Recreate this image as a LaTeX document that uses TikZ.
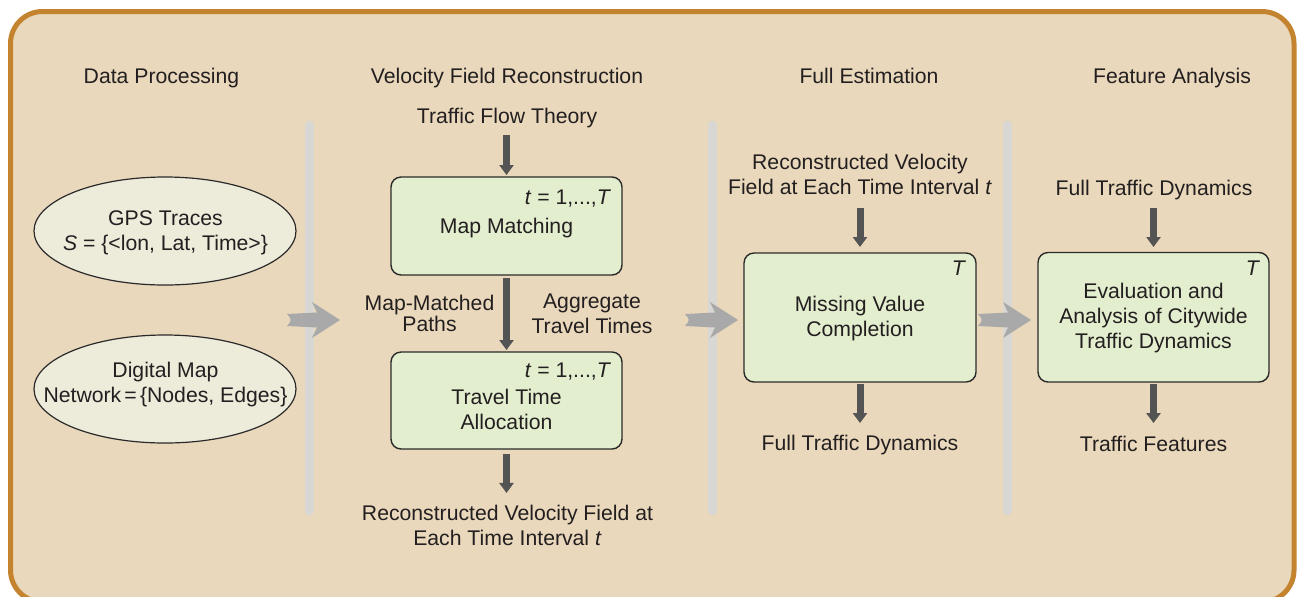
\documentclass[tikz,border=0pt]{standalone}
\usepackage{fontspec}
\setmainfont{Liberation Sans}
\usetikzlibrary{arrows.meta,shapes.geometric}
\definecolor{framec}{HTML}{C4832F}
\definecolor{bgc}{HTML}{E9D8BB}
\definecolor{barc}{HTML}{D8D7D4}
\definecolor{bigarrc}{HTML}{A9A9A9}
\definecolor{darrc}{HTML}{545454}
\definecolor{boxc}{HTML}{E3EECE}
\definecolor{ellc}{HTML}{EDEBDA}
\definecolor{txtc}{HTML}{231F20}
\definecolor{boxline}{HTML}{2A2A2A}
\newcommand{\twol}[1]{\begin{tabular}[t]{@{}c@{}}#1\end{tabular}}
\begin{document}
\begin{tikzpicture}[x=0.5pt,y=-0.5pt,
  every node/.style={text=txtc, font=\fontsize{10.6pt}{12.6pt}\selectfont, inner sep=0pt, outer sep=0pt},
  lbl/.style={anchor=base},
  corner/.style={anchor=base east},
  box/.style={draw=boxline, line width=0.7pt, fill=boxc, rounded corners=5pt, minimum width=115.5pt},
  ell/.style={ellipse, draw=boxline, line width=0.6pt, fill=ellc, minimum width=131pt, minimum height=54pt},
  darr/.style={draw=darrc, line width=3.5pt, -{Triangle[width=7pt,length=5pt]}},
  bar/.style={draw=barc, line width=4.5pt, line cap=round},
  bigarr/.style={fill=bigarrc},
  tight/.style={font=\fontsize{10.6pt}{9.8pt}\selectfont}]
\useasboundingbox (0,0) rectangle (1299,596);
\begin{scope}
  \clip (0,0) rectangle (1299,596);
  \draw[draw=framec, line width=2.5pt, fill=bgc, rounded corners=16pt] (10.5,11.5) rectangle (1294,602);
\end{scope}

% stage separators
\draw[bar] (309,125) -- (309,511);
\draw[bar] (712,125) -- (712,511);
\draw[bar] (1007,125) -- (1007,511);

% big stage arrows
\coordinate (ga1) at (287,320);
\coordinate (ga2) at (685,320);
\coordinate (ga3) at (978,320);
\foreach \c in {ga1,ga2,ga3}
  \fill[bigarr, shift={(\c)}] (0,-6) -- (30,-7.5) -- (25,-18) -- (53,0) -- (25,18) -- (30,7.5) -- (0,6) .. controls (5,0) .. (0,-6) -- cycle;

% headers
\node[lbl] (h1) at (161.5,83) {Data Processing};
\node[lbl] (h2) at (507,83) {Velocity Field Reconstruction};
\node[lbl] (h3) at (869,83) {Full Estimation};
\node[lbl] (h4) at (1172,83) {Feature Analysis};

% data processing
\node[ell] (gps) at (165,231) {};
\node[lbl] (gpst) at (165.5,225) {\twol{GPS Traces\\\textit{S} = \{<lon, Lat, Time>\}}};
\node[ell] (dmap) at (165,389) {};
\node[lbl] (dmapt) at (165.5,377) {\twol{Digital Map\\Network\hspace{0.15em}=\hspace{0.15em}\{Nodes, Edges\}}};

% velocity field reconstruction
\node[lbl] (tft) at (507,123) {Traffic Flow Theory};
\node[box, minimum height=49pt] (mm) at (506.5,226) {};
\node[corner] (mmt) at (611,204) {\textit{t} = 1,...,\textit{T}};
\node[lbl] (mmtxt) at (506.5,233) {Map Matching};
\node[lbl, tight] (mmp) at (429.5,310) {\twol{Map-Matched\\Paths}};
\node[lbl] (agg) at (592,308.5) {\twol{Aggregate\\Travel Times}};
\node[box, minimum height=48.5pt] (tta) at (506.5,400.5) {};
\node[corner] (ttat) at (611,377) {\textit{t} = 1,...,\textit{T}};
\node[lbl] (ttatxt) at (506.5,404) {\twol{Travel Time\\Allocation}};
\node[lbl] (rec1) at (507.5,520) {\twol{Reconstructed Velocity Field at\\Each Time Interval \textit{t}}};

% full estimation
\node[lbl] (rec2) at (860,169.5) {\twol{Reconstructed Velocity\\Field at Each Time Interval \textit{t}}};
\node[box, minimum width=116pt, minimum height=64.5pt] (mvc) at (860,317.5) {};
\node[corner] (mvcT) at (966,275) {\textit{T}};
\node[lbl] (mvctxt) at (860,311) {\twol{Missing Value\\Completion}};
\node[lbl] (ftd1) at (860,450) {Full Traffic Dynamics};

% feature analysis
\node[lbl] (ftd2) at (1154,195) {Full Traffic Dynamics};
\node[box, minimum height=64.75pt] (ev) at (1153.5,317.25) {};
\node[corner] (evT) at (1260,275) {\textit{T}};
\node[lbl] (evtxt) at (1153.5,298.5) {\twol{Evaluation and\\Analysis of Citywide\\Traffic Dynamics}};
\node[lbl] (tf) at (1153.5,451) {Traffic Features};

% flow arrows
\draw[darr, shorten <=3.75pt, shorten >=1pt] (mm.north |- tft.south) -- (mm.north);
\draw[darr, shorten <=1.5pt, shorten >=1pt] (mm.south) -- (tta.north);
\draw[darr, shorten <=2.5pt, shorten >=4.7pt] (tta.south) -- (tta.south |- rec1.north);
\draw[darr, shorten <=2.85pt, shorten >=3pt] (mvc.north |- rec2.south) -- (mvc.north);
\draw[darr, shorten <=1pt, shorten >=5.8pt] (mvc.south) -- (mvc.south |- ftd1.north);
\draw[darr, shorten <=4.25pt, shorten >=2.75pt] (ev.north |- ftd2.south) -- (ev.north);
\draw[darr, shorten <=1pt, shorten >=6.3pt] (ev.south) -- (ev.south |- tf.north);
\end{tikzpicture}
\end{document}
